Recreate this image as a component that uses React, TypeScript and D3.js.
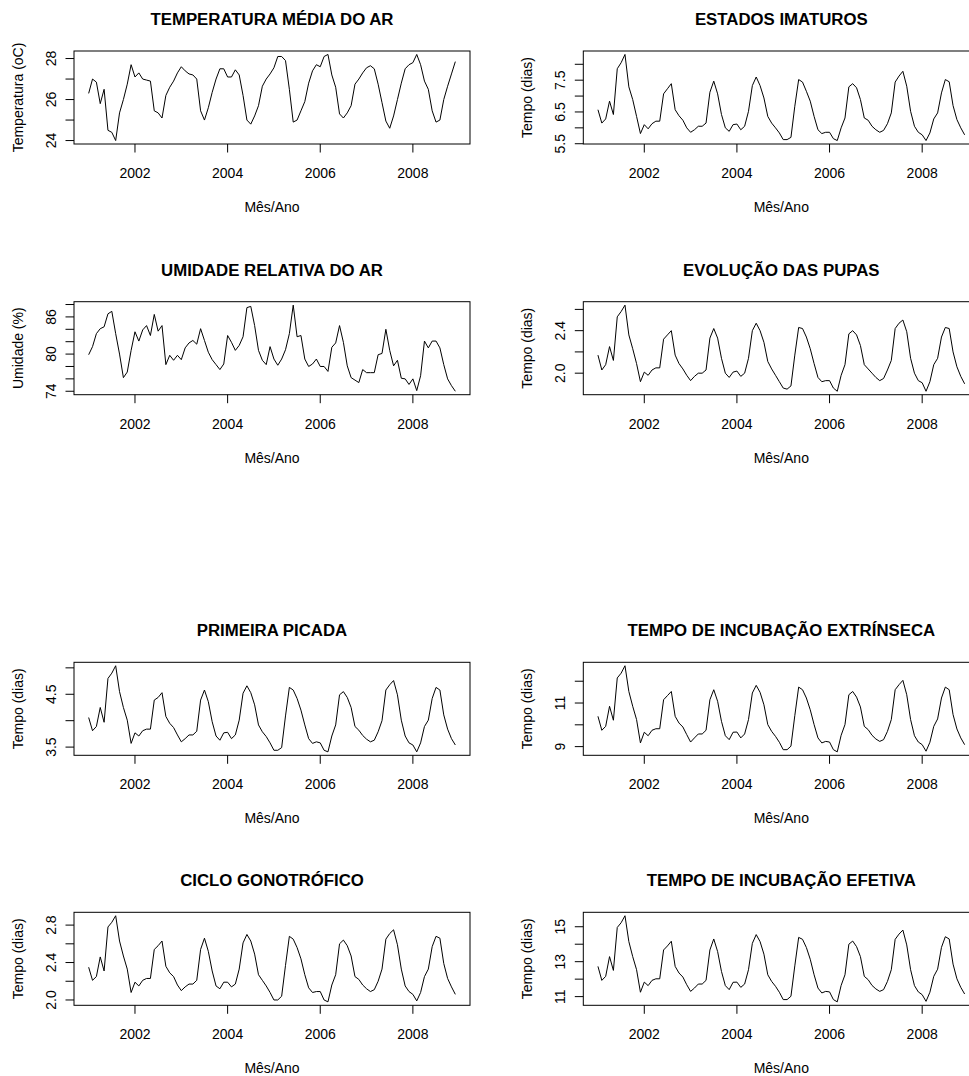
import React from 'react';
import * as d3 from 'd3';

// monthly series, Jan 2001 .. Dec 2008 (96 values each)
const startYear = 2001;

const temperatura = [
  26.3, 27.0, 26.85, 25.8, 26.5, 24.5, 24.4, 24.0, 25.35, 26.0, 26.75, 27.7,
  27.1, 27.3, 27.0, 26.95, 26.9, 25.45, 25.35, 25.1, 26.2, 26.6, 26.9, 27.3,
  27.6, 27.4, 27.25, 27.2, 27.0, 25.45, 25.0, 25.6, 26.35, 27.0, 27.5, 27.5,
  27.1, 27.1, 27.45, 27.2, 26.2, 25.0, 24.8, 25.2, 25.7, 26.65, 27.0, 27.25,
  27.55, 28.1, 28.1, 27.9, 26.5, 24.9, 25.0, 25.45, 25.9, 26.8, 27.4, 27.7,
  27.6, 28.1, 28.2, 27.2, 26.6, 25.3, 25.1, 25.35, 25.7, 26.75, 27.0, 27.3,
  27.55, 27.65, 27.5, 26.75, 25.85, 24.95, 24.6, 25.2, 26.0, 26.8, 27.5, 27.7,
  27.8, 28.2, 27.7, 26.9, 26.5, 25.45, 24.9, 25.0, 26.0, 26.65, 27.25, 27.85,
];

const umidade = [
  79.9, 81.2, 83.3, 84.1, 84.4, 86.5, 86.9, 83.3, 80.0, 76.2, 77.1, 80.6,
  83.6, 82.1, 83.9, 84.6, 83.0, 86.4, 83.7, 84.6, 78.3, 79.8, 79.0, 79.8,
  79.1, 81.0, 81.8, 82.2, 81.6, 84.1, 82.2, 80.3, 79.1, 78.3, 77.5, 78.4,
  83.0, 81.9, 80.6, 81.4, 82.8, 87.5, 87.7, 84.6, 80.6, 79.0, 78.3, 81.2,
  79.2, 78.2, 79.2, 80.7, 83.3, 87.9, 82.8, 83.0, 79.2, 78.0, 78.4, 79.2,
  78.0, 78.0, 77.2, 81.1, 81.8, 84.6, 81.9, 78.1, 76.2, 75.8, 75.4, 77.5,
  77.0, 77.0, 77.0, 79.9, 80.1, 84.0, 80.6, 78.1, 79.0, 76.1, 76.0, 75.1,
  76.0, 74.1, 76.5, 82.1, 81.0, 82.1, 82.1, 81.0, 78.3, 76.0, 74.9, 74.0,
];

const estadosImaturos = [
  6.57, 6.15, 6.28, 6.84, 6.42, 7.86, 8.05, 8.31, 7.29, 6.89, 6.36, 5.82,
  6.1, 5.97, 6.13, 6.21, 6.21, 7.07, 7.23, 7.39, 6.57, 6.38, 6.24, 6.0,
  5.86, 5.94, 6.05, 6.05, 6.15, 7.12, 7.47, 7.07, 6.42, 6.0, 5.89, 6.1,
  6.12, 5.94, 6.05, 6.52, 7.33, 7.6, 7.33, 6.94, 6.36, 6.15, 6.0, 5.84,
  5.63, 5.63, 5.7, 6.68, 7.52, 7.44, 7.15, 6.84, 6.36, 5.94, 5.82, 5.86,
  5.86, 5.66, 5.6, 6.0, 6.31, 7.29, 7.39, 7.26, 6.89, 6.31, 6.24, 6.05,
  5.94, 5.86, 5.92, 6.13, 6.47, 7.44, 7.63, 7.78, 7.31, 6.52, 6.05, 5.86,
  5.78, 5.6, 5.84, 6.28, 6.47, 7.1, 7.52, 7.45, 6.7, 6.26, 6.0, 5.78,
];

const pupas = [
  2.17, 2.03, 2.08, 2.25, 2.12, 2.53, 2.58, 2.64, 2.36, 2.23, 2.09, 1.92,
  2.01, 1.98, 2.03, 2.05, 2.05, 2.32, 2.36, 2.4, 2.17, 2.09, 2.04, 1.98,
  1.93, 1.97, 2.0, 2.0, 2.03, 2.33, 2.42, 2.33, 2.14, 2.0, 1.96, 2.01,
  2.02, 1.97, 2.0, 2.14, 2.4, 2.47, 2.4, 2.29, 2.11, 2.04, 1.98, 1.92,
  1.86, 1.85, 1.88, 2.17, 2.43, 2.42, 2.34, 2.23, 2.09, 1.96, 1.92, 1.93,
  1.93, 1.86, 1.83, 1.98, 2.08, 2.37, 2.4, 2.36, 2.26, 2.08, 2.04, 2.0,
  1.96, 1.93, 1.95, 2.03, 2.12, 2.42, 2.47, 2.5, 2.39, 2.14, 2.0, 1.93,
  1.91, 1.83, 1.92, 2.08, 2.14, 2.34, 2.43, 2.42, 2.2, 2.06, 1.97, 1.9,
];

const primeiraPicada = [
  4.06, 3.81, 3.89, 4.25, 3.97, 4.8, 4.9, 5.04, 4.55, 4.25, 4.01, 3.57,
  3.77, 3.71, 3.81, 3.84, 3.84, 4.39, 4.44, 4.53, 4.08, 3.95, 3.87, 3.73,
  3.6, 3.66, 3.73, 3.73, 3.8, 4.39, 4.58, 4.36, 3.98, 3.71, 3.63, 3.77,
  3.78, 3.66, 3.73, 4.01, 4.52, 4.66, 4.53, 4.3, 3.92, 3.79, 3.7, 3.58,
  3.44, 3.44, 3.49, 4.09, 4.63, 4.58, 4.42, 4.2, 3.92, 3.66, 3.57, 3.6,
  3.58, 3.44, 3.41, 3.71, 3.92, 4.49, 4.55, 4.44, 4.25, 3.89, 3.82, 3.72,
  3.65, 3.6, 3.63, 3.79, 4.0, 4.58, 4.68, 4.76, 4.49, 4.01, 3.71, 3.58,
  3.54, 3.41, 3.58, 3.89, 4.01, 4.42, 4.63, 4.58, 4.11, 3.84, 3.66, 3.54,
];

const incubacaoExtrinseca = [
  10.39, 9.75, 9.93, 10.85, 10.21, 12.15, 12.37, 12.71, 11.53, 10.85, 10.24, 9.17,
  9.66, 9.5, 9.75, 9.82, 9.82, 11.15, 11.34, 11.53, 10.39, 10.08, 9.9, 9.55,
  9.21, 9.4, 9.58, 9.58, 9.75, 11.15, 11.61, 11.08, 10.16, 9.5, 9.32, 9.66,
  9.67, 9.4, 9.58, 10.24, 11.46, 11.81, 11.49, 10.92, 10.01, 9.7, 9.47, 9.2,
  8.86, 8.86, 9.02, 10.42, 11.73, 11.61, 11.23, 10.69, 10.01, 9.4, 9.17, 9.24,
  9.21, 8.86, 8.76, 9.52, 10.01, 11.38, 11.53, 11.27, 10.82, 9.93, 9.78, 9.52,
  9.35, 9.24, 9.32, 9.7, 10.24, 11.61, 11.84, 12.04, 11.38, 10.24, 9.5, 9.21,
  9.09, 8.79, 9.2, 9.93, 10.27, 11.23, 11.73, 11.61, 10.47, 9.81, 9.4, 9.09,
];

const cicloGonotrofico = [
  2.35, 2.21, 2.25, 2.46, 2.31, 2.78, 2.83, 2.9, 2.63, 2.47, 2.33, 2.08,
  2.19, 2.15, 2.21, 2.23, 2.23, 2.54, 2.58, 2.63, 2.36, 2.29, 2.25, 2.16,
  2.1, 2.14, 2.17, 2.17, 2.21, 2.54, 2.66, 2.52, 2.31, 2.15, 2.12, 2.19,
  2.19, 2.14, 2.17, 2.33, 2.61, 2.7, 2.63, 2.49, 2.27, 2.21, 2.15, 2.08,
  2.0, 2.0, 2.04, 2.37, 2.68, 2.65, 2.56, 2.44, 2.27, 2.13, 2.08, 2.09,
  2.09, 2.0, 1.98, 2.16, 2.27, 2.6, 2.64, 2.58, 2.47, 2.25, 2.22, 2.16,
  2.12, 2.09, 2.11, 2.2, 2.33, 2.65, 2.71, 2.75, 2.59, 2.33, 2.15, 2.09,
  2.06, 1.99, 2.08, 2.25, 2.33, 2.57, 2.68, 2.66, 2.39, 2.23, 2.14, 2.06,
];

const incubacaoEfetiva = [
  12.73, 11.93, 12.16, 13.29, 12.5, 14.96, 15.23, 15.63, 14.15, 13.29, 12.54, 11.25,
  11.83, 11.63, 11.93, 12.02, 12.02, 13.67, 13.9, 14.17, 12.73, 12.35, 12.12, 11.68,
  11.3, 11.49, 11.72, 11.72, 11.93, 13.67, 14.3, 13.58, 12.44, 11.63, 11.4, 11.82,
  11.83, 11.53, 11.72, 12.54, 14.05, 14.55, 14.15, 13.43, 12.25, 11.87, 11.59, 11.25,
  10.83, 10.83, 11.02, 12.76, 14.39, 14.28, 13.81, 13.14, 12.25, 11.49, 11.21, 11.3,
  11.27, 10.83, 10.7, 11.64, 12.25, 14.0, 14.18, 13.86, 13.29, 12.16, 11.97, 11.64,
  11.44, 11.3, 11.4, 11.87, 12.54, 14.28, 14.58, 14.81, 13.96, 12.54, 11.63, 11.27,
  11.11, 10.73, 11.25, 12.16, 12.57, 13.82, 14.43, 14.3, 12.86, 12.02, 11.53, 11.15,
];

const xTicks = [2002, 2004, 2006, 2008];

const titles = [
  'TEMPERATURA MÉDIA DO AR', 'ESTADOS IMATUROS',
  'UMIDADE RELATIVA DO AR', 'EVOLUÇÃO DAS PUPAS',
  'PRIMEIRA PICADA', 'TEMPO DE INCUBAÇÃO EXTRÍNSECA',
  'CICLO GONOTRÓFICO', 'TEMPO DE INCUBAÇÃO EFETIVA',
];
const yLabelsText = [
  'Temperatura (oC)', 'Tempo (dias)',
  'Umidade (%)', 'Tempo (dias)',
  'Tempo (dias)', 'Tempo (dias)',
  'Tempo (dias)', 'Tempo (dias)',
];
const series = [
  temperatura, estadosImaturos, umidade, pupas,
  primeiraPicada, incubacaoExtrinseca, cicloGonotrofico, incubacaoEfetiva,
];
// tick marks and the subset R actually labelled (overlapping ones dropped)
const yTicks = [
  [24, 25, 26, 27, 28], [5.5, 6, 6.5, 7, 7.5, 8],
  [74, 76, 78, 80, 82, 84, 86, 88], [2.0, 2.2, 2.4, 2.6],
  [3.5, 4, 4.5, 5], [9, 10, 11, 12],
  [2.0, 2.2, 2.4, 2.6, 2.8], [11, 12, 13, 14, 15],
];
const yTickLabels = [
  ['24', '26', '28'], ['5.5', '6.5', '7.5'],
  ['74', '80', '86'], ['2.0', '2.4'],
  ['3.5', '4.5'], ['9', '11'],
  ['2.0', '2.4', '2.8'], ['11', '13', '15'],
];

const colLeft = [74, 583.3];
const rowTop = [51, 301.7, 662.3, 912.3];
const boxW = 396;
const boxH = 93;
const font = '"Liberation Sans", Arial, Helvetica, sans-serif';

const Panel: React.FC<{ idx: number }> = ({ idx }) => {
  const values = series[idx];
  const left = colLeft[idx % 2];
  const top = rowTop[Math.floor(idx / 2)];
  const bottom = top + boxH;
  const right = left + boxW;

  const times = values.map((_, i) => startYear + i / 12);
  const [t0, t1] = d3.extent(times) as [number, number];
  const tPad = (t1 - t0) * 0.04;
  const x = d3.scaleLinear().domain([t0 - tPad, t1 + tPad]).range([left, right]);

  const [v0, v1] = d3.extent(values) as [number, number];
  const vPad = (v1 - v0) * 0.04;
  const y = d3.scaleLinear().domain([v0 - vPad, v1 + vPad]).range([bottom, top]);

  const line = d3.line<number>()
    .x((_, i) => x(times[i]))
    .y(d => y(d));

  const labelled = yTickLabels[idx];
  const cx = (left + right) / 2;
  const cy = (top + bottom) / 2;

  return (
    <g fontFamily={font}>
      <text x={cx} y={top - 32 + 6} textAnchor="middle" fontSize={16.8} fontWeight="bold" fill="#000">
        {titles[idx]}
      </text>
      <path d={line(values) || ''} fill="none" stroke="#000" strokeWidth={1} />
      <rect x={left} y={top} width={boxW} height={boxH} fill="none" stroke="#000" strokeWidth={1} />
      {xTicks.map(t => (
        <g key={t}>
          <line x1={x(t)} x2={x(t)} y1={bottom} y2={bottom + 8.5} stroke="#000" />
          <text x={x(t)} y={bottom + 34} textAnchor="middle" fontSize={14} fill="#000">{t}</text>
        </g>
      ))}
      {yTicks[idx].map(v => {
        const lab = labelled.find(s => Math.abs(parseFloat(s) - v) < 1e-9);
        return (
          <g key={v}>
            <line x1={left - 8.5} x2={left} y1={y(v)} y2={y(v)} stroke="#000" />
            {lab && (
              <text transform={`translate(${left - 18},${y(v)}) rotate(-90)`} textAnchor="middle" fontSize={14} fill="#000">
                {lab}
              </text>
            )}
          </g>
        );
      })}
      <text x={cx} y={bottom + 68} textAnchor="middle" fontSize={14} fill="#000">Mês/Ano</text>
      <text transform={`translate(${left - 51},${cy}) rotate(-90)`} textAnchor="middle" fontSize={14} fill="#000">
        {yLabelsText[idx]}
      </text>
    </g>
  );
};

const App: React.FC = () => (
  <svg
    width={969}
    height={1076}
    viewBox="0 0 969 1076"
    style={{ position: 'absolute', left: 0, top: 0, display: 'block', background: '#fff' }}
  >
    <rect width={969} height={1076} fill="#fff" />
    {series.map((_, i) => <Panel key={i} idx={i} />)}
  </svg>
);

export default App;
